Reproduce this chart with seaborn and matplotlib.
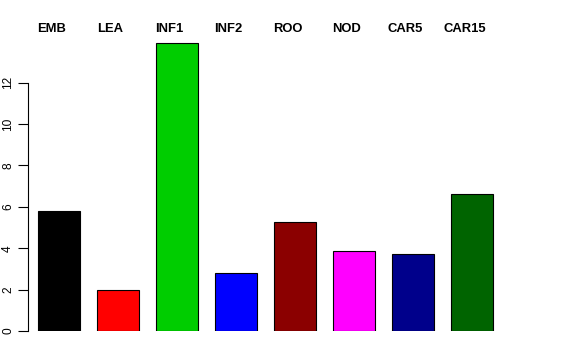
import matplotlib
matplotlib.use("Agg")
import matplotlib.pyplot as plt
import matplotlib.transforms as mtransforms
import pandas as pd
import seaborn as sns

# data
tissues = ['EMB', 'LEA', 'INF1', 'INF2', 'ROO', 'NOD', 'CAR5', 'CAR15']
values = [5.8, 1.98, 13.93, 2.78, 5.27, 3.85, 3.70, 6.63]
bar_colors = ['#000000', '#FF0000', '#00CD00', '#0000FF',
              '#8B0000', '#FF00FF', '#00008B', '#006400']

df = pd.DataFrame({'tissue': tissues, 'value': values})

sns.set_style('white')
plt.rcParams['font.family'] = ['Liberation Sans', 'DejaVu Sans']
plt.rcParams['text.color'] = 'black'
plt.rcParams['ytick.color'] = 'black'

fig = plt.figure(figsize=(5.76, 3.6), dpi=100)
# axes placed in pixels: left 28, bottom at y=331, top at y=31
ax = fig.add_axes([28 / 576, (360 - 331) / 360, (560 - 28) / 576, 300 / 360])

sns.barplot(data=df, x='tissue', y='value', hue='tissue', palette=bar_colors,
            legend=False, width=0.7, edgecolor='black', linewidth=0.8,
            saturation=1, ax=ax)

ax.set_xlim(-0.525, 8.49)
ax.set_ylim(0, 14.5)
ax.set_xlabel('')
ax.set_ylabel('')
ax.set_xticks([])
ax.set_yticks(range(0, 13, 2))
ax.tick_params(axis='y', left=True, length=7, width=0.8, color='black',
               labelcolor='black', labelsize=8.6, pad=3)
for lab in ax.get_yticklabels():
    lab.set_rotation(90)
    lab.set_va('center')

for s in ['top', 'right', 'bottom']:
    ax.spines[s].set_visible(False)
ax.spines['left'].set_bounds(0, 12)
ax.spines['left'].set_color('black')
ax.spines['left'].set_linewidth(0.8)

# names above bars
trans = mtransforms.blended_transform_factory(ax.transData, fig.transFigure)
for i, name in enumerate(tissues):
    ax.text(i - 0.13, 1 - 29 / 360, name, transform=trans, ha='center',
            va='center', fontsize=9.4, fontweight='bold', color='black',
            clip_on=False)

fig.savefig('out.png', dpi=100)
